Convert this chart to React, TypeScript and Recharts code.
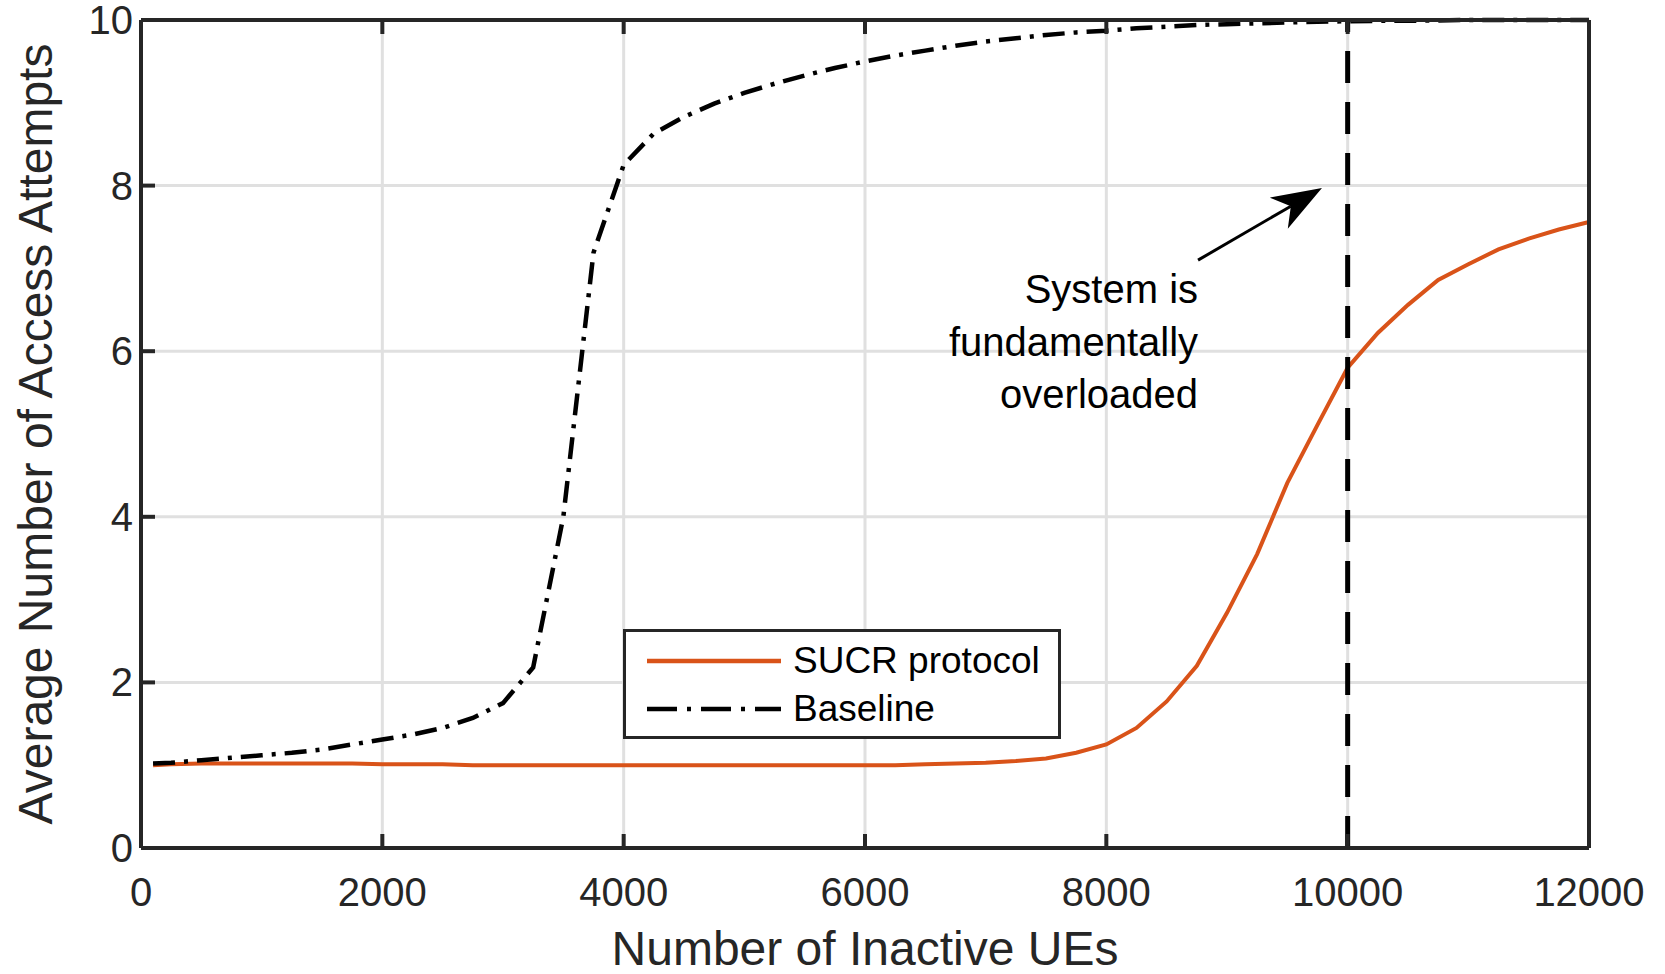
import React from "react";
import {
  LineChart,
  Line,
  XAxis,
  YAxis,
  CartesianGrid,
  ReferenceLine,
  ReferenceDot,
  Legend,
} from "recharts";

const inactiveUEs = [
  100, 250, 500, 750, 1000, 1250, 1500, 1750, 2000, 2250, 2500, 2750, 3000, 3250, 3500, 3750,
  4000, 4250, 4500, 4750, 5000, 5250, 5500, 5750, 6000, 6250, 6500, 6750, 7000, 7250, 7500,
  7750, 8000, 8250, 8500, 8750, 9000, 9250, 9500, 9750, 10000, 10250, 10500, 10750, 11000,
  11250, 11500, 11750, 12000,
];

const sucrAttempts = [
  1.0, 1.01, 1.02, 1.02, 1.02, 1.02, 1.02, 1.02, 1.01, 1.01, 1.01, 1.0, 1.0, 1.0, 1.0, 1.0,
  1.0, 1.0, 1.0, 1.0, 1.0, 1.0, 1.0, 1.0, 1.0, 1.0, 1.01, 1.02, 1.03, 1.05, 1.08,
  1.15, 1.25, 1.45, 1.77, 2.2, 2.84, 3.55, 4.41, 5.11, 5.8, 6.22, 6.56, 6.86, 7.05,
  7.23, 7.36, 7.47, 7.56,
];

const baselineAttempts = [
  1.02, 1.03, 1.06, 1.09, 1.12, 1.15, 1.19, 1.25, 1.31, 1.37, 1.45, 1.57, 1.75, 2.18, 4.0, 7.19,
  8.25, 8.63, 8.83, 8.99, 9.12, 9.23, 9.33, 9.42, 9.5, 9.57, 9.63, 9.69, 9.74, 9.78, 9.82,
  9.85, 9.87, 9.9, 9.92, 9.94, 9.95, 9.96, 9.97, 9.98, 9.985, 9.99, 9.99, 9.995, 10.0,
  10.0, 10.0, 10.0, 10.0,
];

const xTicks = [0, 2000, 4000, 6000, 8000, 10000, 12000];
const yTicks = [0, 2, 4, 6, 8, 10];

const seriesOrder = ["sucr", "baseline"];
const overloadX = 10000;
const noteLines = ["System is", "fundamentally", "overloaded"];

const data = inactiveUEs.map((x, i) => ({
  x,
  sucr: sucrAttempts[i],
  baseline: baselineAttempts[i],
}));

const FONT = "'Liberation Sans', Arial, Helvetica, sans-serif";
const AXIS = "#262626";
const ORANGE = "#D95319";
const DASHDOT = "22 9 4 9";

const BottomTick = ({ x, y, payload }: any) => (
  <g>
    <line x1={x} x2={x} y1={y} y2={y - 14} stroke={AXIS} strokeWidth={4} />
    <text x={x} y={y + 58} textAnchor="middle" fontSize={40} fontFamily={FONT} fill={AXIS}>
      {payload.value}
    </text>
  </g>
);

const TopTick = ({ x, y }: any) => (
  <line x1={x} x2={x} y1={y} y2={y + 14} stroke={AXIS} strokeWidth={4} />
);

const LeftTick = ({ x, y, payload }: any) => (
  <g>
    <line x1={x} x2={x + 14} y1={y} y2={y} stroke={AXIS} strokeWidth={4} />
    <text x={x - 8} y={y + 14} textAnchor="end" fontSize={40} fontFamily={FONT} fill={AXIS}>
      {payload.value}
    </text>
  </g>
);

const RightTick = ({ x, y }: any) => (
  <line x1={x} x2={x - 14} y1={y} y2={y} stroke={AXIS} strokeWidth={4} />
);

const YTitle = ({ viewBox }: any) => {
  const cx = viewBox.x + 35;
  const cy = viewBox.y + viewBox.height / 2;
  return (
    <text
      x={cx}
      y={cy}
      transform={`rotate(-90 ${cx} ${cy})`}
      textAnchor="middle"
      dominantBaseline="central"
      fontSize={48}
      fontFamily={FONT}
      fill={AXIS}
    >
      Average Number of Access Attempts
    </text>
  );
};

const XTitle = ({ viewBox }: any) => (
  <text
    x={viewBox.x + viewBox.width / 2}
    y={viewBox.y + 117}
    textAnchor="middle"
    fontSize={48}
    fontFamily={FONT}
    fill={AXIS}
  >
    Number of Inactive UEs
  </text>
);

const Arrow = ({ x1, y1, x2, y2 }: any) => {
  const dx = x2 - x1;
  const dy = y2 - y1;
  const len = Math.sqrt(dx * dx + dy * dy);
  const ux = dx / len;
  const uy = dy / len;
  const head = 50;
  const half = 18;
  const bx = x2 - ux * head;
  const by = y2 - uy * head;
  const nx = x2 - ux * head * 0.72;
  const ny = y2 - uy * head * 0.72;
  const pts = [
    [x2, y2],
    [bx - uy * half, by + ux * half],
    [nx, ny],
    [bx + uy * half, by - ux * half],
  ]
    .map((p) => p.join(","))
    .join(" ");
  return (
    <g>
      <line x1={x1} y1={y1} x2={nx} y2={ny} stroke="#000" strokeWidth={3} />
      <polygon points={pts} fill="#000" />
    </g>
  );
};

const Note = ({ cx, cy }: any) => (
  <text textAnchor="end" fontSize={40} fontFamily={FONT} fill="#000">
    {noteLines.map((t, i) => (
      <tspan key={t} x={cx} y={cy + 14 + i * 52.5}>
        {t}
      </tspan>
    ))}
  </text>
);

const LegendBox = ({ payload }: any) => {
  const items = [...(payload || [])].sort(
    (a: any, b: any) => seriesOrder.indexOf(a.dataKey) - seriesOrder.indexOf(b.dataKey)
  );
  return (
    <div
      style={{
        width: 438,
        height: 110,
        boxSizing: "border-box",
        border: `3px solid ${AXIS}`,
        background: "#fff",
        position: "relative",
        fontFamily: FONT,
      }}
    >
      {items.map((entry: any, i: number) => (
        <div
          key={entry.value}
          style={{
            position: "absolute",
            left: 21,
            top: 29 + i * 48 - 24,
            height: 48,
            display: "flex",
            alignItems: "center",
          }}
        >
          <svg width={134} height={10} style={{ display: "block" }}>
            <line
              x1={0}
              x2={134}
              y1={5}
              y2={5}
              stroke={entry.color}
              strokeWidth={4.5}
              strokeDasharray={entry.dataKey === "baseline" ? "30 10 4 10" : undefined}
            />
          </svg>
          <span style={{ marginLeft: 12, fontSize: 37, color: "#000", whiteSpace: "nowrap" }}>
            {entry.value}
          </span>
        </div>
      ))}
    </div>
  );
};

export default function App() {
  return (
    <div style={{ position: "absolute", left: 0, top: 0, background: "#fff" }}>
      <LineChart width={1665} height={974} data={data} margin={{ top: 0, right: 0, bottom: 0, left: 0 }}>
        <CartesianGrid stroke="#e0e0e0" strokeWidth={3} />
        <XAxis
          dataKey="x"
          type="number"
          domain={[0, 12000]}
          ticks={xTicks}
          height={126}
          tickSize={0}
          tickMargin={0}
          tickLine={false}
          tick={<BottomTick />}
          axisLine={{ stroke: AXIS, strokeWidth: 4 }}
          interval={0}
          label={<XTitle />}
        />
        <XAxis
          xAxisId="top"
          orientation="top"
          dataKey="x"
          type="number"
          domain={[0, 12000]}
          ticks={xTicks}
          height={20}
          tickSize={0}
          tickMargin={0}
          tickLine={false}
          tick={<TopTick />}
          axisLine={{ stroke: AXIS, strokeWidth: 4 }}
          interval={0}
        />
        <YAxis
          type="number"
          domain={[0, 10]}
          ticks={yTicks}
          width={141}
          tickSize={0}
          tickMargin={0}
          tickLine={false}
          tick={<LeftTick />}
          axisLine={{ stroke: AXIS, strokeWidth: 4 }}
          interval={0}
          label={<YTitle />}
        />
        <YAxis
          yAxisId="right"
          orientation="right"
          type="number"
          domain={[0, 10]}
          ticks={yTicks}
          width={76}
          tickSize={0}
          tickMargin={0}
          tickLine={false}
          tick={<RightTick />}
          axisLine={{ stroke: AXIS, strokeWidth: 4 }}
          interval={0}
        />
        <Line
          type="linear"
          dataKey="sucr"
          name="SUCR protocol"
          stroke={ORANGE}
          strokeWidth={4}
          dot={false}
          isAnimationActive={false}
        />
        <Line
          type="linear"
          dataKey="baseline"
          name="Baseline"
          stroke="#000"
          strokeWidth={4.5}
          strokeDasharray={DASHDOT}
          dot={false}
          isAnimationActive={false}
        />
        <ReferenceLine x={overloadX} stroke="#000" strokeWidth={5} strokeDasharray="32 19" />
        <ReferenceLine
          segment={[
            { x: 8760, y: 7.1 },
            { x: 9787, y: 7.97 },
          ]}
          shape={(p: any) => <Arrow {...p} />}
        />
        <ReferenceDot x={8760} y={6.75} r={0} shape={(p: any) => <Note {...p} />} />
        <Legend
          layout="horizontal"
          verticalAlign="middle"
          align="center"
          content={<LegendBox />}
          wrapperStyle={{ left: 623, top: 629, width: 438, height: 110 }}
        />
      </LineChart>
    </div>
  );
}
